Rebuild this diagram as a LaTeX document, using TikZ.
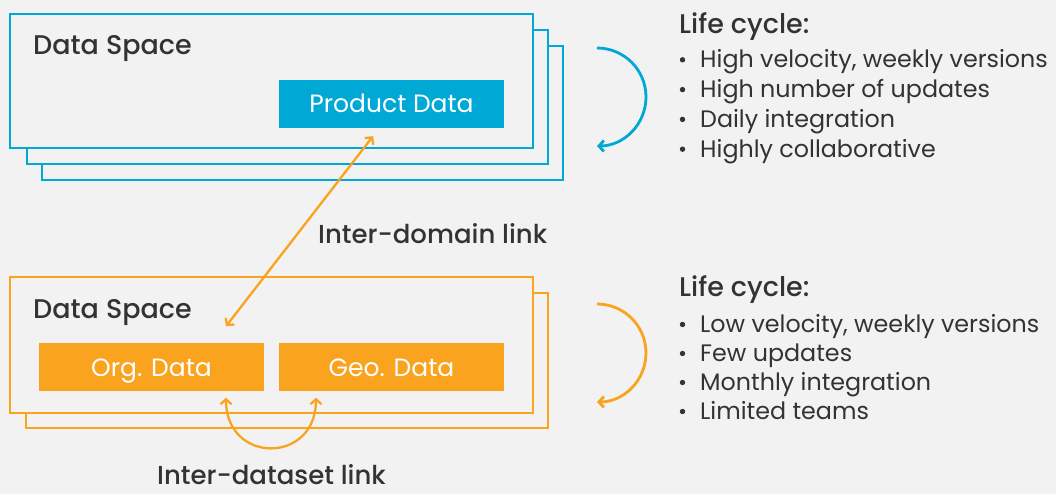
\documentclass[tikz,border=0pt]{standalone}
\usepackage{fontspec}
\setmainfont{Poppins}
\newfontfamily\medfont{Poppins Medium}
\usepackage{xcolor}
\usetikzlibrary{arrows.meta}

\definecolor{dsblue}{HTML}{00A8D6}
\definecolor{dsorange}{HTML}{F9A31E}
\definecolor{dsback}{HTML}{F2F2F2}
\definecolor{dstext}{HTML}{333333}

\tikzset{
    spacebox/.style={draw=#1, line width=2.8pt, fill=dsback},
    databox/.style={fill=#1, text=white, minimum width=225pt, minimum height=48pt,
        inner sep=0pt, text height=17.5pt, text depth=0pt, font=\fontsize{25}{29}\selectfont},
    linkarrow/.style={dsorange, line width=2.3pt,
        {Straight Barb[length=5pt,width=11pt]}-{Straight Barb[length=5pt,width=11pt]}},
    cyclearrow/.style={draw=#1, line width=2.8pt, -{Straight Barb[length=5pt,width=11pt]}},
    title/.style={text=dstext, anchor=base west, inner sep=0pt,
        font=\medfont\fontsize{27}{31}\selectfont},
    item/.style={text=dstext, anchor=base west, inner sep=0pt,
        font=\fontsize{23.8}{28}\selectfont}
}

\begin{document}
\begin{tikzpicture}[x=1pt, y=1pt]
        \useasboundingbox (0, 0) rectangle (1056, 494);
        \fill[dsback] (0, 0) rectangle (1056, 494);

        % stacked product spaces
        \draw[spacebox=dsblue] (42, 314) rectangle (563, 448);
        \draw[spacebox=dsblue] (27, 330) rectangle (548, 464);
        \draw[spacebox=dsblue] (10, 346) rectangle (533, 480);
        \node[title] (bluespace) at (33, 439) {Data Space};
        \node[databox=dsblue] (prod) at (391.5, 390) {Product Data};

        % stacked reference spaces
        \draw[spacebox=dsorange] (26, 66) rectangle (548, 201);
        \draw[spacebox=dsorange] (10, 81) rectangle (533, 217);
        \node[title] (orangespace) at (33, 175) {Data Space};
        \node[databox=dsorange] (org) at (151.5, 126.5) {Org. Data};
        \node[databox=dsorange] (geo) at (391.5, 126.5) {Geo. Data};

        % links
        \coordinate (prodlink) at ([xshift=-18.5pt, yshift=-8pt]prod.south);
        \coordinate (orglink) at ([xshift=74.5pt, yshift=17pt]org.north);
        \draw[linkarrow] (orglink) -- (prodlink);
        \node[title, font=\medfont\fontsize{26}{30}\selectfont] (domainlabel) at (318, 250) {Inter-domain link};

        \coordinate (orgfoot) at ([xshift=74.5pt, yshift=-6pt]org.south);
        \coordinate (geofoot) at ([xshift=-75.5pt, yshift=-6pt]geo.south);
        \draw[linkarrow] (orgfoot) to[out=-90, in=-90, looseness=1.9] (geofoot);
        \node[title, anchor=base, font=\medfont\fontsize{26}{30}\selectfont] (datasetlabel)
            at (271.5, 9) {Inter-dataset link};

        % life cycles
        \draw[cyclearrow=dsblue] (597, 446) arc[start angle=90, end angle=-90, radius=49];
        \node[title] (bluecycle) at (679, 460) {Life cycle:};
        \foreach \txt [count=\i] in {{High velocity, weekly versions}, {High number of updates},
                {Daily integration}, {Highly collaborative}} {
            \fill[dstext] (682.5, {464 - 29.8*\i}) circle (2.7);
            \node[item] (blueitem\i) at (700, {460 - 4 - 29.8*\i}) {\txt};
        }

        \draw[cyclearrow=dsorange] (597, 190) arc[start angle=90, end angle=-90, radius=49];
        \node[title] (orangecycle) at (679, 197) {Life cycle:};
        \foreach \txt [count=\i] in {{Low velocity, weekly versions}, {Few updates},
                {Monthly integration}, {Limited teams}} {
            \fill[dstext] (682.5, {198.5 - 29*\i}) circle (2.7);
            \node[item] (orangeitem\i) at (700, {197 - 6.5 - 29*\i}) {\txt};
        }
\end{tikzpicture}
\end{document}
